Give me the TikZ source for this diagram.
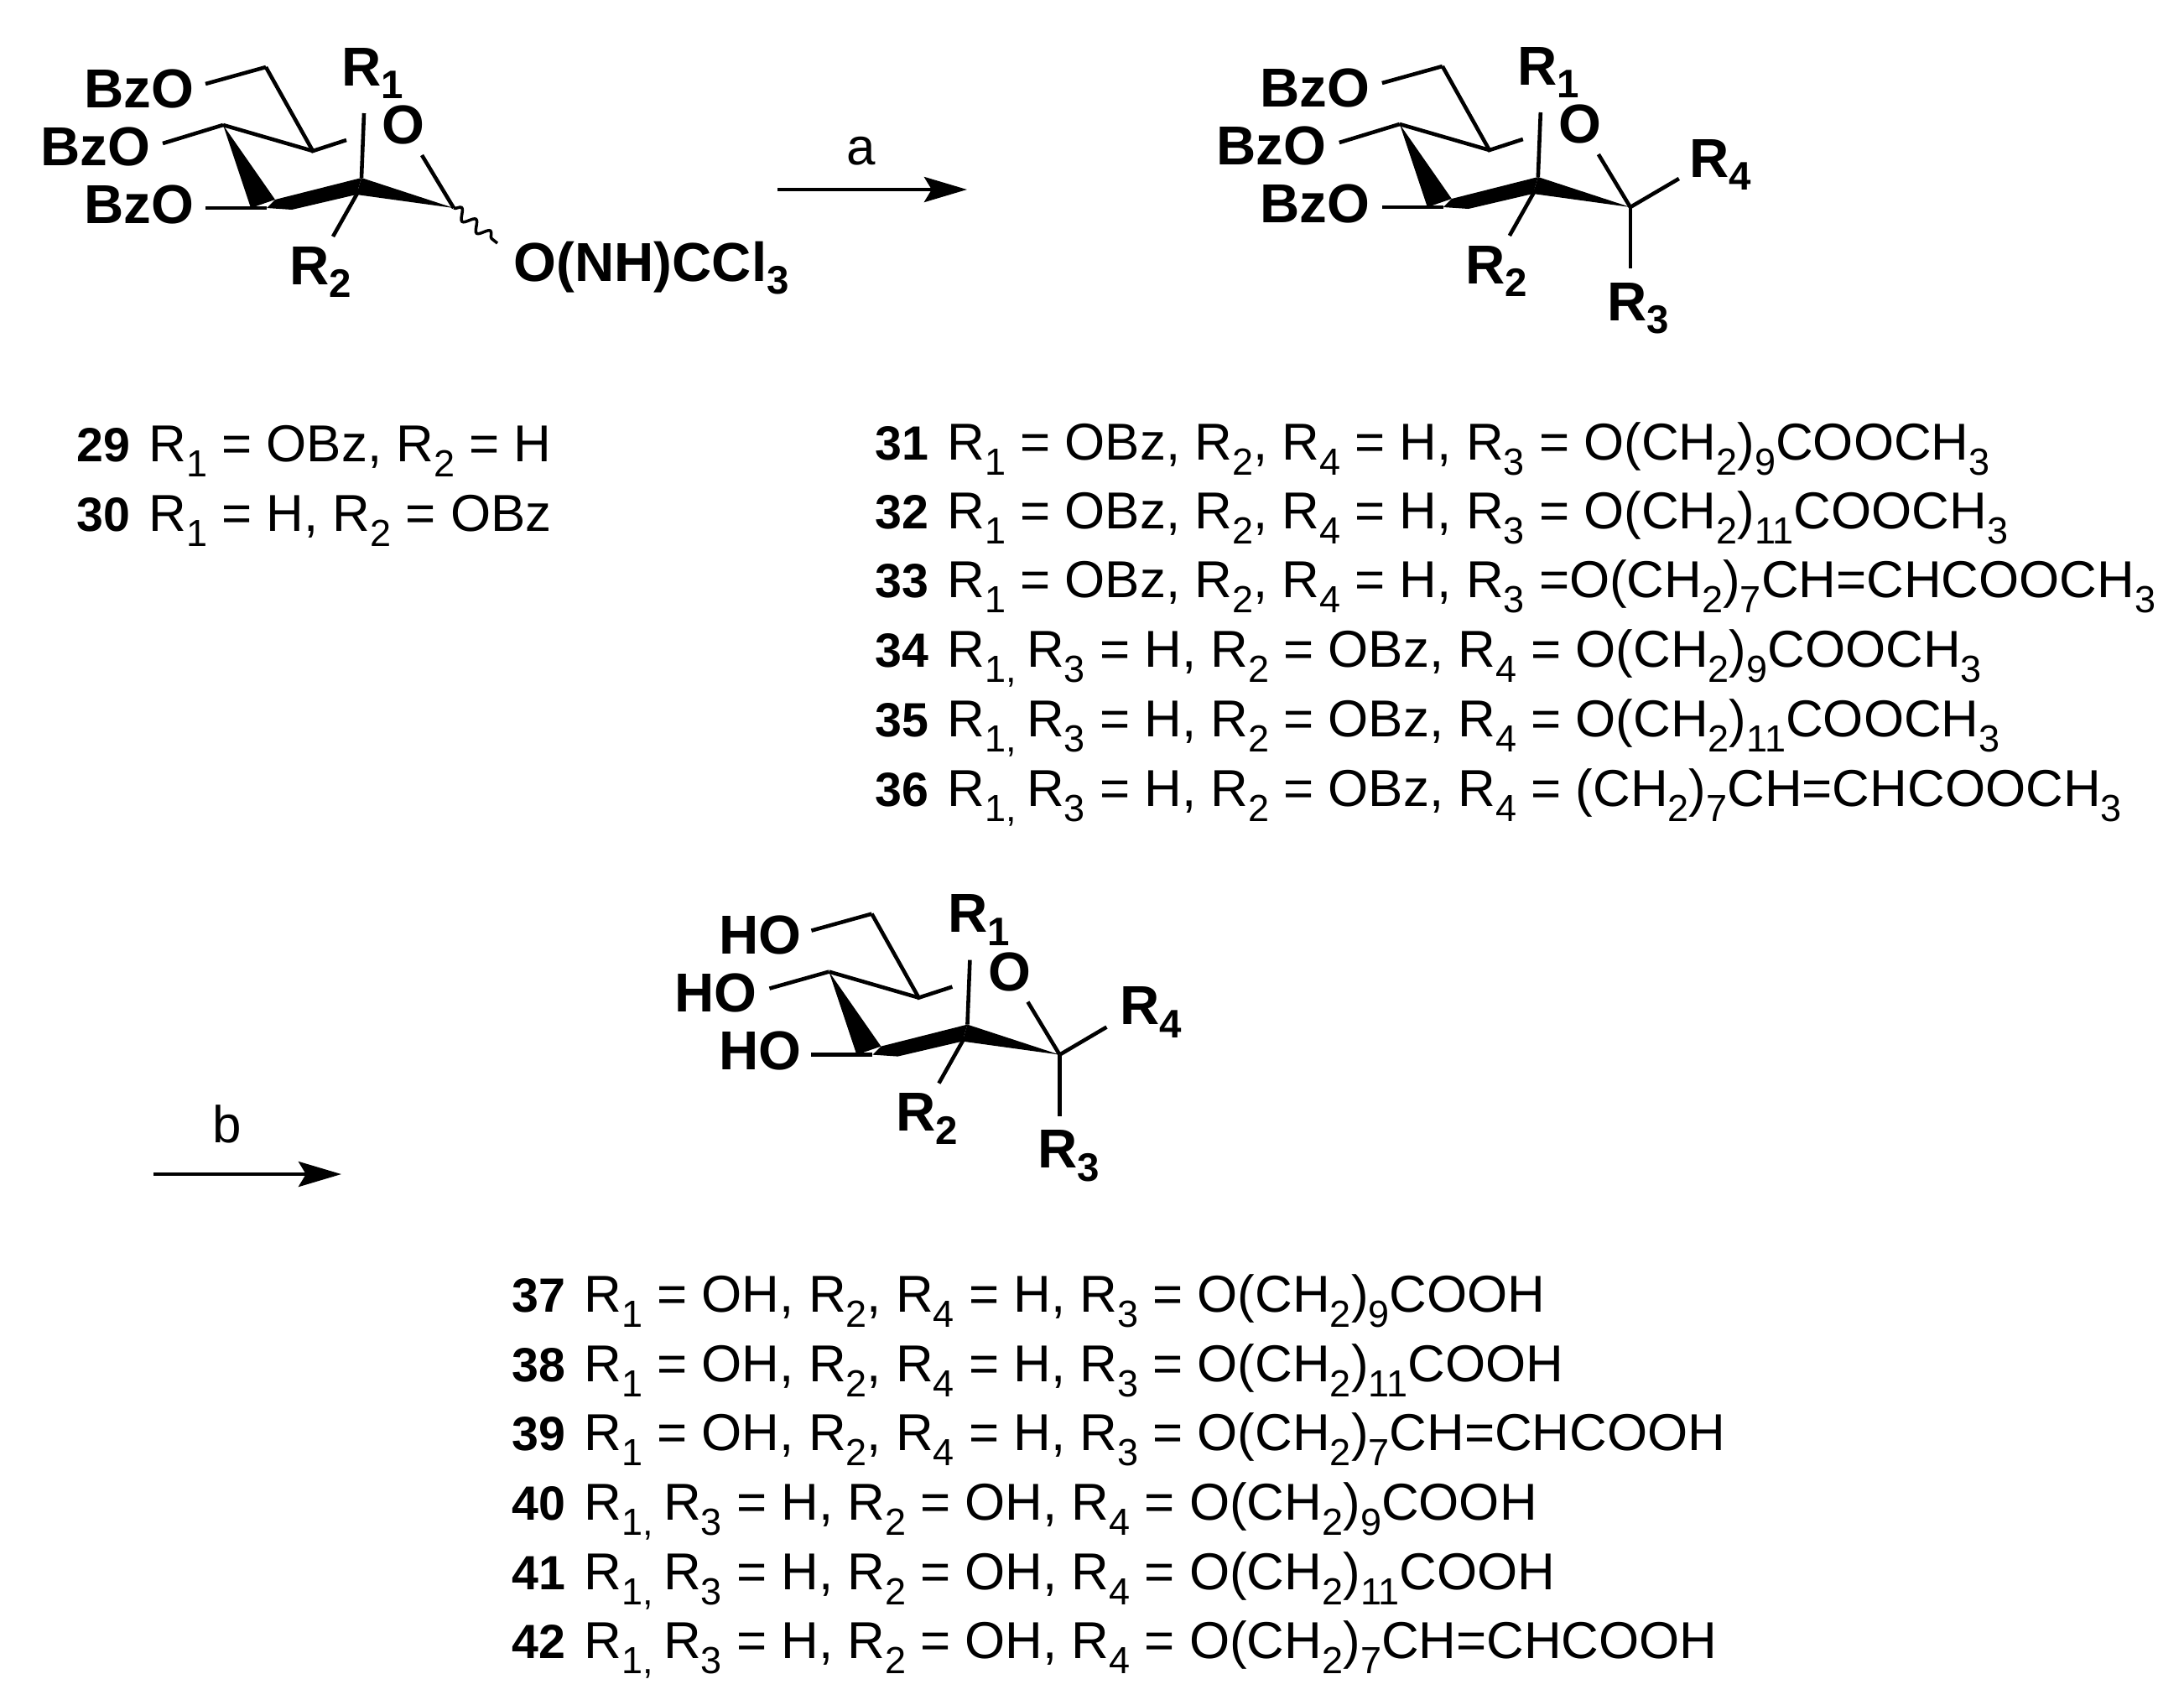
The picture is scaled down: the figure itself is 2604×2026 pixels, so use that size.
\documentclass[tikz,border=0pt]{standalone}
\usepackage{fontspec}
\setmainfont{Liberation Sans}
\usetikzlibrary{arrows.meta, decorations.pathmorphing}
\newcommand{\sbs}[1]{\raisebox{-.3em}{\fontsize{12.8}{14}\selectfont #1}}
\newcommand{\sbb}[1]{\raisebox{-.24em}{\fontsize{13.5}{15}\selectfont\bfseries #1}}
\newcommand{\cpd}[1]{{\fontsize{16.3}{20}\selectfont\bfseries #1}\hspace{1.4pt}}
\newcommand{\rone}{R\sbs{1,}\hspace{-1.4pt}}
\tikzset{
  bond/.style={line width=1.3pt},
  rxn/.style={line width=1.4pt, -{Stealth[length=14.5pt, width=8.5pt, inset=2.5pt]}},
  atom/.style={inner sep=0pt, font=\fontsize{18.6}{20}\selectfont\bfseries},
  entry/.style={inner sep=0pt, anchor=base west, font=\fontsize{17.6}{20}\selectfont},
  reagent/.style={inner sep=0pt, font=\fontsize{17.6}{20}\selectfont},
}
% chair drawn at the position of the first sugar, the scopes move it
\newcommand{\chair}{
\coordinate (ch2) at (317,80); \coordinate (c4) at (266,149); \coordinate (c5) at (373,180);
\coordinate (c3) at (318,248); \coordinate (c2) at (431,212); \coordinate (c1) at (541,248);
\coordinate (ogap) at (413,167); \coordinate (ogap2) at (503,185);
\coordinate (r1end) at (434,135); \coordinate (r2end) at (397,282);
\draw[bond] (ch2) -- (c5) -- (ogap);
\draw[bond] (c4) -- (c5);
\draw[bond] (c1) -- (ogap2);
\draw[bond] (c2) -- (r1end);
\draw[bond] (428,227) -- (r2end);
\fill (c4) -- (328,238) -- (299,248) -- cycle; %back wedge
\fill (328,238) -- (c2) -- (425,232) -- (348,250) -- (318,248) -- cycle; %thick front
\fill (c2) -- (c1) -- (425,232) -- cycle; %front wedge
}

\begin{document}
\begin{tikzpicture}[x=.01cm, y=-.01cm]
\useasboundingbox (0,0) rectangle (2604,2026);

% 29, 30
\begin{scope}
\chair
\coordinate (e1) at (245,100); \coordinate (e2) at (194,171); \coordinate (e3) at (245,248); \coordinate (wavy) at (593,290);
\node[atom, anchor=base east] (bzoa) at (232,128) {BzO};
\node[atom, anchor=base east] (bzob) at (180,197) {BzO};
\node[atom, anchor=base east] (bzoc) at (232,266) {BzO};
\node[atom, anchor=base west] (ra) at (407,102) {R\sbb{1}};
\node[atom] (oa) at (481,149) {O};
\node[atom, anchor=base west] (rb) at (345,339) {R\sbb{2}};
\node[atom, anchor=base west] (leave) at (612,335) {O(NH)CCl\sbb{3}};
\draw[bond] (ch2) -- (e1);
\draw[bond] (c4) -- (e2);
\draw[bond] (c3) -- (e3);
\draw[line width=1pt, decorate, decoration={snake, amplitude=1.8pt, segment length=6.3pt}] (c1) -- (wavy);
\end{scope}

% 31-36
\begin{scope}[xshift=14.02cm, yshift=.01cm]
\chair
\coordinate (e1) at (245,100); \coordinate (e2) at (194,171); \coordinate (e3) at (245,248);
\coordinate (e4) at (599,214); \coordinate (e5) at (541,321);
\node[atom, anchor=base east] (bzod) at (231,128) {BzO};
\node[atom, anchor=base east] (bzoe) at (179,197) {BzO};
\node[atom, anchor=base east] (bzof) at (231,266) {BzO};
\node[atom, anchor=base west] (rc) at (406,102) {R\sbb{1}};
\node[atom] (ob) at (481,149) {O};
\node[atom, anchor=base west] (rd) at (344,339) {R\sbb{2}};
\node[atom, anchor=base west] (re) at (513,383) {R\sbb{3}};
\node[atom, anchor=base west] (rf) at (611,212) {R\sbb{4}};
\draw[bond] (ch2) -- (e1);
\draw[bond] (c4) -- (e2);
\draw[bond] (c3) -- (e3);
\draw[bond] (c1) -- (e4);
\draw[bond] (c1) -- (e5);
\end{scope}

% 37-42
\begin{scope}[xshift=7.22cm, yshift=-10.09cm]
\chair
\coordinate (e1) at (245,100); \coordinate (e2) at (195,169); \coordinate (e3) at (245,248);
\coordinate (e4) at (597,215); \coordinate (e5) at (541,321);
\node[atom, anchor=base east] (hoa) at (234,128) {HO};
\node[atom, anchor=base east] (hob) at (181,197) {HO};
\node[atom, anchor=base east] (hoc) at (234,266) {HO};
\node[atom, anchor=base west] (rg) at (407,102) {R\sbb{1}};
\node[atom] (oc) at (481,149) {O};
\node[atom, anchor=base west] (rh) at (345,339) {R\sbb{2}};
\node[atom, anchor=base west] (ri) at (514,383) {R\sbb{3}};
\node[atom, anchor=base west] (rj) at (612,212) {R\sbb{4}};
\draw[bond] (ch2) -- (e1);
\draw[bond] (c4) -- (e2);
\draw[bond] (c3) -- (e3);
\draw[bond] (c1) -- (e4);
\draw[bond] (c1) -- (e5);
\end{scope}

% arrows
\coordinate (afrom) at (927,226); \coordinate (ato) at (1153,226);
\draw[rxn] (afrom) -- (ato);
\node[reagent] (la) at (1027,180) {a};
\coordinate (bfrom) at (183,1400); \coordinate (bto) at (407,1400);
\draw[rxn] (bfrom) -- (bto);
\node[reagent] (lb) at (271,1340) {b};

% compound lists
\node[entry] (l29) at (91,550) {\cpd{29} R\sbs{1} = OBz, R\sbs{2} = H};
\node[entry] (l30) at (91,633) {\cpd{30} R\sbs{1} = H, R\sbs{2} = OBz};

\node[entry] (l31) at (1043,548) {\cpd{31} R\sbs{1} = OBz, R\sbs{2}, R\sbs{4} = H, R\sbs{3} = O(CH\sbs{2})\sbs{9}COOCH\sbs{3}};
\node[entry] (l32) at (1043,630) {\cpd{32} R\sbs{1} = OBz, R\sbs{2}, R\sbs{4} = H, R\sbs{3} = O(CH\sbs{2})\sbs{11}COOCH\sbs{3}};
\node[entry] (l33) at (1043,712) {\cpd{33} R\sbs{1} = OBz, R\sbs{2}, R\sbs{4} = H, R\sbs{3} =O(CH\sbs{2})\sbs{7}CH=CHCOOCH\sbs{3}};
\node[entry] (l34) at (1043,795) {\cpd{34} \rone{} R\sbs{3} = H, R\sbs{2} = OBz, R\sbs{4} = O(CH\sbs{2})\sbs{9}COOCH\sbs{3}};
\node[entry] (l35) at (1043,878) {\cpd{35} \rone{} R\sbs{3} = H, R\sbs{2} = OBz, R\sbs{4} = O(CH\sbs{2})\sbs{11}COOCH\sbs{3}};
\node[entry] (l36) at (1043,961) {\cpd{36} \rone{} R\sbs{3} = H, R\sbs{2} = OBz, R\sbs{4} = (CH\sbs{2})\sbs{7}CH=CHCOOCH\sbs{3}};

\node[entry] (l37) at (610,1564) {\cpd{37} R\sbs{1} = OH, R\sbs{2}, R\sbs{4} = H, R\sbs{3} = O(CH\sbs{2})\sbs{9}COOH};
\node[entry] (l38) at (610,1647) {\cpd{38} R\sbs{1} = OH, R\sbs{2}, R\sbs{4} = H, R\sbs{3} = O(CH\sbs{2})\sbs{11}COOH};
\node[entry] (l39) at (610,1729) {\cpd{39} R\sbs{1} = OH, R\sbs{2}, R\sbs{4} = H, R\sbs{3} = O(CH\sbs{2})\sbs{7}CH=CHCOOH};
\node[entry] (l40) at (610,1812) {\cpd{40} \rone{} R\sbs{3} = H, R\sbs{2} = OH, R\sbs{4} = O(CH\sbs{2})\sbs{9}COOH};
\node[entry] (l41) at (610,1895) {\cpd{41} \rone{} R\sbs{3} = H, R\sbs{2} = OH, R\sbs{4} = O(CH\sbs{2})\sbs{11}COOH};
\node[entry] (l42) at (610,1977) {\cpd{42} \rone{} R\sbs{3} = H, R\sbs{2} = OH, R\sbs{4} = O(CH\sbs{2})\sbs{7}CH=CHCOOH};

\end{tikzpicture}
\end{document}
